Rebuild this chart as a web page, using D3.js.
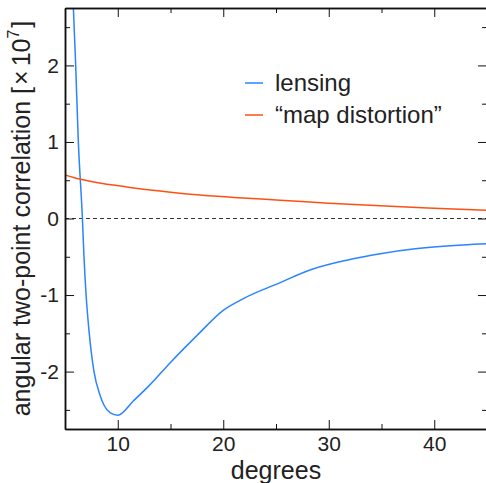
<!DOCTYPE html>
<html>
<head>
<meta charset="utf-8">
<script src="https://cdn.jsdelivr.net/npm/d3@7"></script>
<style>
  body { margin: 0; background: #fff; }
  svg { display: block; font-family: "Liberation Sans", Arial, sans-serif; }
</style>
</head>
<body>
<div id="vis"></div>
<script>
// degrees vs angular two-point correlation (x 10^7)
var lensingDeg = [5.75, 6.0, 6.25, 6.65, 6.8, 7.0, 7.3, 7.75, 8.3, 8.7, 9.3, 10.0, 11.5, 13.0, 15.0, 17.5, 20.0, 22.0, 25.0, 28.5, 31.7, 34.9, 38.0, 41.2, 45.0];
var lensingVal = [2.9, 2.05, 1.05, 0.0, -0.5, -1.0, -1.5, -2.0, -2.3, -2.44, -2.54, -2.57, -2.38, -2.18, -1.88, -1.53, -1.2, -1.04, -0.86, -0.66, -0.545, -0.46, -0.40, -0.36, -0.33];
var distortionDeg = [5, 6.4, 8, 10.85, 14, 17.2, 21, 25.4, 30, 34.9, 40, 45];
var distortionVal = [0.57, 0.515, 0.47, 0.413, 0.36, 0.313, 0.275, 0.24, 0.2, 0.165, 0.135, 0.108];
var xTicks = [10, 20, 30, 40];
var yTicks = [-2, -1, 0, 1, 2];
var seriesNames = ['lensing', '\u201cmap distortion\u201d'];

var width = 486, height = 483;
var margin = { top: 8, right: -1, bottom: 54, left: 65 };
var colors = ['#2a84ff', '#ff5014'];

var svg = d3.select('#vis').append('svg')
  .attr('width', width)
  .attr('height', height);

var x = d3.scaleLinear().domain([5, 45]).range([margin.left, width - margin.right]);
var y = d3.scaleLinear().domain([-2.75, 2.75]).range([height - margin.bottom, margin.top]);

svg.append('clipPath').attr('id', 'plot')
  .append('rect')
  .attr('x', x(5)).attr('y', y(2.75))
  .attr('width', x(45) - x(5)).attr('height', y(-2.75) - y(2.75));

// zero line
svg.append('line')
  .attr('x1', x(5)).attr('x2', x(45))
  .attr('y1', y(0)).attr('y2', y(0))
  .attr('stroke', '#333')
  .attr('stroke-width', 1)
  .attr('stroke-dasharray', '4,3');

var line = d3.line()
  .x(function(d) { return x(d[0]); })
  .y(function(d) { return y(d[1]); })
  .curve(d3.curveMonotoneX);

var series = [
  d3.zip(lensingDeg, lensingVal),
  d3.zip(distortionDeg, distortionVal)
];

svg.append('g').attr('clip-path', 'url(#plot)')
  .selectAll('path')
  .data(series)
  .enter().append('path')
  .attr('d', line)
  .attr('fill', 'none')
  .attr('stroke', function(d, i) { return colors[i]; })
  .attr('stroke-width', 1.5);

// axes, ticks pointing inward on all four sides
function styleAxis(g) {
  g.select('.domain').attr('stroke', '#111').attr('stroke-width', 1.5);
  g.selectAll('.tick line').attr('stroke', '#111').attr('stroke-width', 1);
  g.selectAll('.tick text').attr('fill', '#222').style('font-size', '21px');
}

var plain = function(d) { return String(d); };
var xMinor = d3.range(5, 46, 5).filter(function(d) { return xTicks.indexOf(d) < 0; });
var yMinor = d3.range(-2.5, 2.6, 0.5).filter(function(d) { return yTicks.indexOf(d) < 0; });

svg.append('g')
  .attr('transform', 'translate(0,' + y(-2.75) + ')')
  .call(d3.axisBottom(x).tickValues(xTicks).tickFormat(plain).tickSize(-9).tickPadding(7).tickSizeOuter(0))
  .call(styleAxis);
svg.append('g')
  .attr('transform', 'translate(0,' + y(-2.75) + ')')
  .call(d3.axisBottom(x).tickValues(xMinor).tickSize(-5).tickFormat('').tickSizeOuter(0))
  .call(styleAxis);
svg.append('g')
  .attr('transform', 'translate(0,' + y(2.75) + ')')
  .call(d3.axisTop(x).tickValues(xTicks).tickSize(-9).tickFormat('').tickSizeOuter(0))
  .call(styleAxis);
svg.append('g')
  .attr('transform', 'translate(0,' + y(2.75) + ')')
  .call(d3.axisTop(x).tickValues(xMinor).tickSize(-5).tickFormat('').tickSizeOuter(0))
  .call(styleAxis);

svg.append('g')
  .attr('transform', 'translate(' + x(5) + ',0)')
  .call(d3.axisLeft(y).tickValues(yTicks).tickFormat(plain).tickSize(-9).tickPadding(6).tickSizeOuter(0))
  .call(styleAxis);
svg.append('g')
  .attr('transform', 'translate(' + x(5) + ',0)')
  .call(d3.axisLeft(y).tickValues(yMinor).tickSize(-5).tickFormat('').tickSizeOuter(0))
  .call(styleAxis);
svg.append('g')
  .attr('transform', 'translate(' + x(45) + ',0)')
  .call(d3.axisRight(y).tickValues(yTicks).tickSize(-9).tickFormat('').tickSizeOuter(0))
  .call(styleAxis);
svg.append('g')
  .attr('transform', 'translate(' + x(45) + ',0)')
  .call(d3.axisRight(y).tickValues(yMinor).tickSize(-5).tickFormat('').tickSizeOuter(0))
  .call(styleAxis);

// axis titles
svg.append('text')
  .attr('x', (x(5) + x(45)) / 2)
  .attr('y', 479)
  .attr('text-anchor', 'middle')
  .attr('fill', '#222')
  .style('font-size', '25px')
  .text('degrees');

var yt = svg.append('text')
  .attr('transform', 'translate(30,' + ((y(-2.75) + y(2.75)) / 2) + ') rotate(-90)')
  .attr('text-anchor', 'middle')
  .attr('fill', '#222')
  .style('font-size', '25px');
yt.append('tspan').text('angular two-point correlation [');
yt.append('tspan').text('\u00d7').attr('dx', 2);
yt.append('tspan').text('10').attr('dx', 4);
yt.append('tspan').text('7').attr('dy', -11).style('font-size', '16px');
yt.append('tspan').text(']').attr('dy', 11).attr('dx', 2);

// legend
var legend = svg.append('g').selectAll('g')
  .data(seriesNames)
  .enter().append('g')
  .attr('transform', function(d, i) { return 'translate(245,' + (83 + i * 32) + ')'; });

legend.append('line')
  .attr('x1', 0).attr('x2', 18)
  .attr('stroke', function(d, i) { return colors[i]; })
  .attr('stroke-width', 1.5);

legend.append('text')
  .attr('x', 30)
  .attr('y', 8)
  .attr('fill', '#222')
  .style('font-size', '24px')
  .text(function(d) { return d; });
</script>
</body>
</html>
